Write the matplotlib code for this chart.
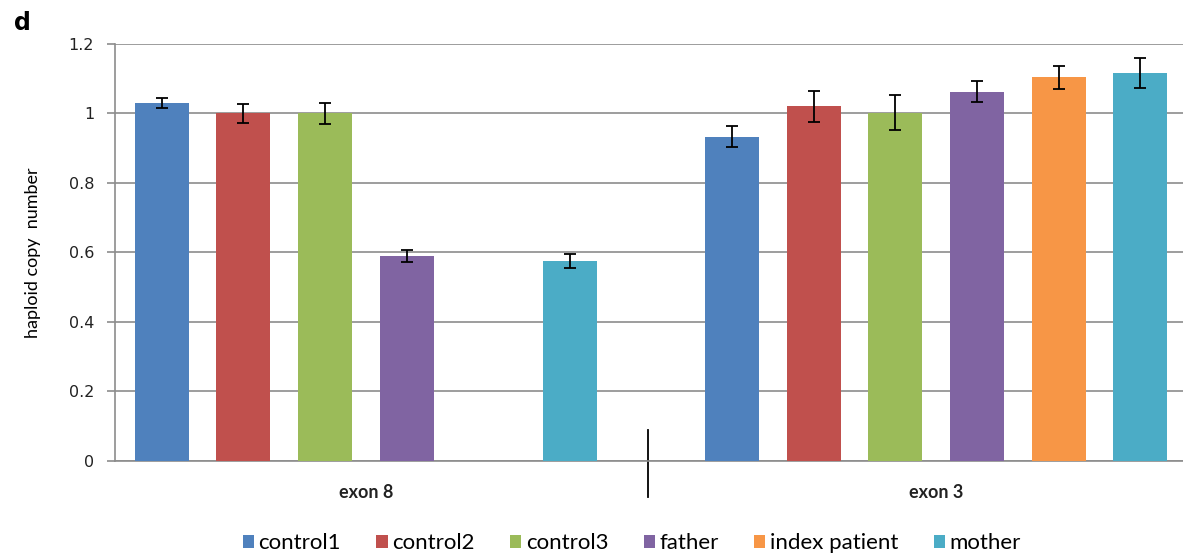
import numpy as np
import matplotlib
matplotlib.use("Agg")
import matplotlib.pyplot as plt
from matplotlib.patches import Patch

groups = ["exon 8", "exon 3"]
samples = ["control1", "control2", "control3", "father", "index patient", "mother"]
colors = ["#4F81BD", "#C0504D", "#9BBB59", "#8064A2", "#F79646", "#4BACC6"]

# values per sample: [exon 8, exon 3]  (index patient not measured for exon 8)
values = {
    "control1": [1.03, 0.933],
    "control2": [1.00, 1.021],
    "control3": [1.00, 1.002],
    "father": [0.59, 1.063],
    "index patient": [np.nan, 1.104],
    "mother": [0.575, 1.117],
}
errors = {
    "control1": [0.015, 0.03],
    "control2": [0.026, 0.045],
    "control3": [0.03, 0.05],
    "father": [0.018, 0.031],
    "index patient": [np.nan, 0.034],
    "mother": [0.02, 0.044],
}

fig = plt.figure(figsize=(11.83, 5.56), dpi=100)
ax = fig.add_axes([0.0972, 0.1709, 0.9028, 0.75])

x = np.arange(len(groups))
step = 0.1432
width = 0.0947
for i, s in enumerate(samples):
    pos = x + (i - 2.5) * step
    ax.bar(pos, values[s], width, color=colors[i], zorder=3)
    ax.errorbar(pos, values[s], yerr=errors[s], fmt="none", ecolor="black",
                elinewidth=1.3, capsize=4, capthick=1.3, zorder=4)

ax.set_xlim(-0.44, 1.433)
ax.set_ylim(0, 1.2)
ax.set_yticks([0, 0.2, 0.4, 0.6, 0.8, 1.0, 1.2])
ax.set_yticklabels(["0", "0.2", "0.4", "0.6", "0.8", "1", "1.2"], fontsize=11.5, color="#222222")
ax.yaxis.grid(True, color="#8c8c8c", linewidth=1.2, zorder=0)
ax.set_xticks([])
for sp in ["top", "right"]:
    ax.spines[sp].set_visible(False)
ax.spines["left"].set_color("#8c8c8c")
ax.spines["left"].set_linewidth(1.2)
ax.spines["bottom"].set_color("#8c8c8c")
ax.spines["bottom"].set_linewidth(1.2)
ax.tick_params(axis="y", length=6, color="#8c8c8c", width=1.2, pad=9)

for xi, g in zip(x, groups):
    ax.text(xi, -0.09, g, ha="center", va="center", fontsize=13,
            fontweight="bold", family="Lato", color="#222222")

# separator between groups
ax.plot([0.495, 0.495], [0.089, -0.104], color="black", linewidth=1.3, clip_on=False)

ax.set_ylabel("haploid copy  number", fontsize=13, family="Lato", labelpad=20)
fig.text(0.012, 0.958, "d", fontsize=17, fontweight="bold", va="center")

handles = [Patch(facecolor=c, label=s) for c, s in zip(colors, samples)]
fig.legend(handles=handles, loc="center", bbox_to_anchor=(0.534, 0.023), ncol=6,
           frameon=False, handlelength=0.5, handleheight=0.5,
           handletextpad=0.2, columnspacing=1.6, prop={"family": "Lato", "size": 16})

fig.savefig("out.png", dpi=100)
